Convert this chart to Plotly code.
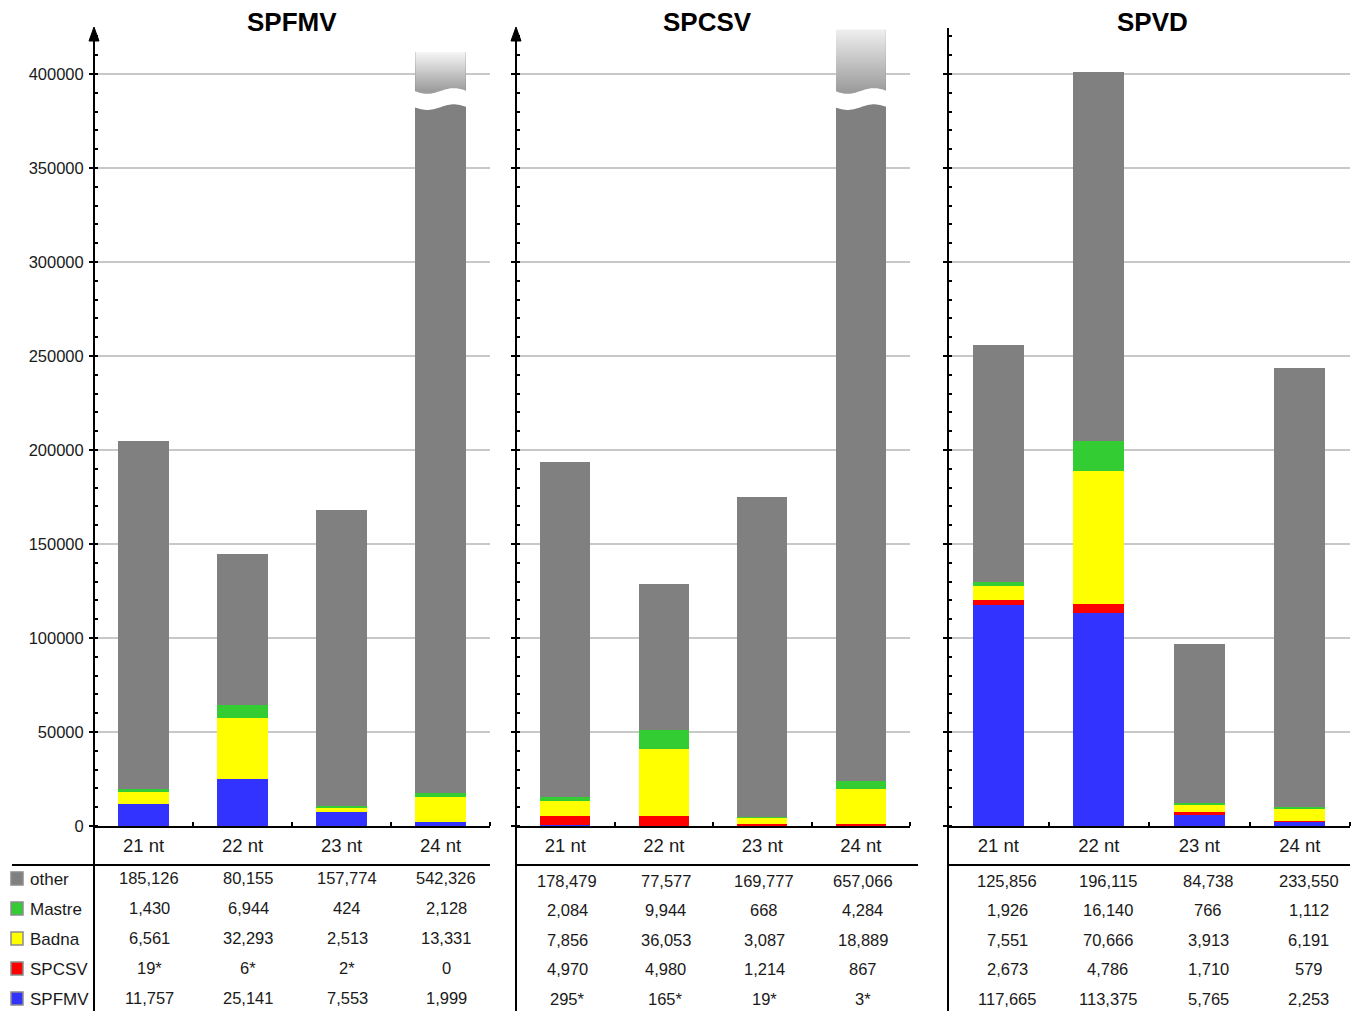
import math
import plotly.graph_objects as go

# ---------------- data ----------------
categories = ["21 nt", "22 nt", "23 nt", "24 nt"]
panel_titles = ["SPFMV", "SPCSV", "SPVD"]
row_names = ["other", "Mastre", "Badna", "SPCSV", "SPFMV"]  # table order (top to bottom)

spfmv_other = [185126, 80155, 157774, 542326]
spfmv_mastre = [1430, 6944, 424, 2128]
spfmv_badna = [6561, 32293, 2513, 13331]
spfmv_spcsv = [19, 6, 2, 0]
spfmv_spfmv = [11757, 25141, 7553, 1999]

spcsv_other = [178479, 77577, 169777, 657066]
spcsv_mastre = [2084, 9944, 668, 4284]
spcsv_badna = [7856, 36053, 3087, 18889]
spcsv_spcsv = [4970, 4980, 1214, 867]
spcsv_spfmv = [295, 165, 19, 3]

spvd_other = [125856, 196115, 84738, 233550]
spvd_mastre = [1926, 16140, 766, 1112]
spvd_badna = [7551, 70666, 3913, 6191]
spvd_spcsv = [2673, 4786, 1710, 579]
spvd_spfmv = [117665, 113375, 5765, 2253]

# asterisk marks in the table
spfmv_spcsv_star = [True, True, True, False]
spcsv_spfmv_star = [True, True, True, True]

panels = [
    {"other": spfmv_other, "Mastre": spfmv_mastre, "Badna": spfmv_badna,
     "SPCSV": spfmv_spcsv, "SPFMV": spfmv_spfmv, "stars": {"SPCSV": spfmv_spcsv_star}},
    {"other": spcsv_other, "Mastre": spcsv_mastre, "Badna": spcsv_badna,
     "SPCSV": spcsv_spcsv, "SPFMV": spcsv_spfmv, "stars": {"SPFMV": spcsv_spfmv_star}},
    {"other": spvd_other, "Mastre": spvd_mastre, "Badna": spvd_badna,
     "SPCSV": spvd_spcsv, "SPFMV": spvd_spfmv, "stars": {}},
]

colors = {"SPFMV": "#3333ff", "SPCSV": "#ff0000", "Badna": "#ffff00",
          "Mastre": "#33cc33", "other": "#808080"}
stack_order = ["SPFMV", "SPCSV", "Badna", "Mastre", "other"]

# ---------------- layout geometry (pixels) ----------------
W, H = 1352, 1011
FONT = "Liberation Sans, Arial, Helvetica, sans-serif"
TXT = "#1a1a1a"
Y_TOP_PX, Y_ZERO_PX = 28, 826
YMAX = 424500
BAR_W = 0.51
panel_px = [(94, 490), (516, 910), (948, 1350)]
title_px = [292, 707, 1152]
table_offset = [0.06, 0.02, 0.09]
row_y_px = [[878, 908, 938, 968, 998], [881, 910, 940, 969, 999], [881, 910, 940, 969, 999]]
header_line_px = [(12, 490), (516, 918), (948, 1350)]
BREAK_LO, BREAK_HI, BREAK_AMP = 382400, 391000, 1500
FADE_TOP = [411700, YMAX + 2000, None]


def px(xp):
    return xp / W


def py(yp):
    return 1 - yp / H


fig = go.Figure()
shapes = []
annotations = []
layout_axes = {}

for i, pdata in enumerate(panels):
    n = "" if i == 0 else str(i + 1)
    xa, ya = "x" + n, "y" + n
    xs = list(range(len(categories)))
    for s in stack_order:
        fig.add_trace(go.Bar(x=xs, y=pdata[s], width=BAR_W, marker_color=colors[s],
                             marker_line_width=0, xaxis=xa, yaxis=ya,
                             showlegend=False, hoverinfo="skip"))
    # axis break for bars exceeding the axis
    totals = [sum(pdata[s][c] for s in stack_order) for c in xs]
    for c, t in enumerate(totals):
        if t > YMAX:
            x0, x1 = c - BAR_W / 2, c + BAR_W / 2
            ft = FADE_TOP[i]
            fig.add_trace(go.Scatter(
                x=[x0, x1, x1, x0, x0], y=[BREAK_HI - 2000, BREAK_HI - 2000, ft, ft, BREAK_HI - 2000],
                fill="toself", mode="none", xaxis=xa, yaxis=ya,
                fillgradient=dict(type="vertical", start=BREAK_HI, stop=ft,
                                  colorscale=[[0, "rgba(255,255,255,0.22)"],
                                              [1, "rgba(255,255,255,0.93)"]]),
                showlegend=False, hoverinfo="skip"))
            if ft < YMAX:
                shapes.append(dict(type="rect", xref=xa, yref=ya, x0=x0 - 0.01, x1=x1 + 0.01,
                                   y0=ft, y1=YMAX + 5000, fillcolor="white",
                                   line=dict(width=0), layer="above"))
            # cover anti-aliased clip edge at the very top of the plot area
            shapes.append(dict(type="rect", xref=xa, yref="paper", x0=x0 - 0.01, x1=x1 + 0.01,
                               y0=py(Y_TOP_PX + 1.5), y1=py(Y_TOP_PX - 3), fillcolor="white",
                               line=dict(width=0), layer="above"))
            N = 30
            e0, e1 = x0 - 0.012, x1 + 0.012
            top, bot = [], []
            for k in range(N + 1):
                xx = e0 + (e1 - e0) * k / N
                ph = -math.sin(2 * math.pi * k / N)
                top.append((xx, BREAK_HI + BREAK_AMP * ph))
                bot.append((xx, BREAK_LO + BREAK_AMP * ph))
            pts = top + bot[::-1]
            path = "M " + " L ".join(f"{a:.4f},{b:.1f}" for a, b in pts) + " Z"
            shapes.append(dict(type="path", xref=xa, yref=ya, path=path,
                               fillcolor="white", line=dict(width=0), layer="above"))

    x0p, x1p = panel_px[i]
    layout_axes["xaxis" + n] = dict(
        domain=[px(x0p), px(x1p)], range=[-0.5, len(categories) - 0.5], anchor=ya,
        tickvals=xs, ticktext=categories, ticks="", showgrid=False, zeroline=False,
        showline=True, linecolor="black", linewidth=2, automargin=False,
        tickfont=dict(family=FONT, size=18.5, color=TXT), ticklabelstandoff=2,
        minor=dict(tickvals=[0.5, 1.5, 2.5, 3.5], ticks="inside", ticklen=4,
                   tickwidth=1.5, tickcolor="black", showgrid=False),
    )
    layout_axes["yaxis" + n] = dict(
        domain=[py(Y_ZERO_PX), py(Y_TOP_PX)], range=[0, YMAX], anchor=xa,
        tick0=0, dtick=50000, tickformat="d", showgrid=True, gridcolor="#c8c8c8",
        gridwidth=2, zeroline=False, showline=False, automargin=False,
        ticks="outside", ticklen=4, tickwidth=2, tickcolor="black",
        showticklabels=(i == 0), tickfont=dict(family=FONT, size=16.5, color=TXT),
        ticklabelstandoff=2,
        minor=dict(tick0=0, dtick=10000, ticks="inside", ticklen=4, tickwidth=1.5,
                   tickcolor="black", showgrid=False),
    )
    # vertical axis line running through the table
    shapes.append(dict(type="line", xref="paper", yref="paper", x0=px(x0p), x1=px(x0p),
                       y0=py(Y_TOP_PX if i == 2 else 36), y1=py(H), line=dict(color="black", width=2)))
    if i < 2:
        shapes.append(dict(type="path", xref="paper", yref="paper",
                           path=f"M {px(x0p-5)},{py(41)} L {px(x0p)},{py(27)} L {px(x0p+5)},{py(41)} Z",
                           fillcolor="black", line=dict(color="black", width=1)))
    # table header line
    h0, h1 = header_line_px[i]
    shapes.append(dict(type="line", xref="paper", yref="paper", x0=px(h0), x1=px(h1),
                       y0=py(865), y1=py(865), line=dict(color="black", width=2)))
    # panel title
    annotations.append(dict(text=panel_titles[i], xref="paper", yref="paper",
                            x=px(title_px[i]), y=py(22), xanchor="center", yanchor="middle",
                            showarrow=False, font=dict(family=FONT, size=26, color="black", weight="bold")))
    # table values
    for r, rn in enumerate(row_names):
        stars = pdata["stars"].get(rn, [False] * len(categories))
        for c in xs:
            v = pdata[rn][c]
            annotations.append(dict(text=f"{v:,}" + ("*" if stars[c] else ""),
                                    xref=xa, yref="paper", x=c + table_offset[i],
                                    y=py(row_y_px[i][r]), xanchor="center", yanchor="middle",
                                    showarrow=False, font=dict(family=FONT, size=16.5, color=TXT)))

# row labels + colour keys
for r, rn in enumerate(row_names):
    yc = row_y_px[0][r]
    shapes.append(dict(type="rect", xref="paper", yref="paper", x0=px(11), x1=px(23),
                       y0=py(yc + 7), y1=py(yc - 6), fillcolor=colors[rn],
                       line=dict(color="#8c8c8c", width=1.5)))
    annotations.append(dict(text=rn, xref="paper", yref="paper", x=px(28), y=py(yc + 1),
                            xanchor="left", yanchor="middle", showarrow=False,
                            font=dict(family=FONT, size=17, color=TXT)))

fig.update_layout(
    width=W, height=H, autosize=False,
    margin=dict(l=0, r=0, t=0, b=0, pad=0, autoexpand=False),
    paper_bgcolor="white", plot_bgcolor="white", barmode="stack",
    shapes=shapes, annotations=annotations, showlegend=False,
    font=dict(family=FONT, color=TXT),
    **layout_axes,
)

fig.write_html("out.html",
               config={"displayModeBar": False, "responsive": False},
               post_script="document.body.style.margin='0';document.body.style.overflow='hidden';")
